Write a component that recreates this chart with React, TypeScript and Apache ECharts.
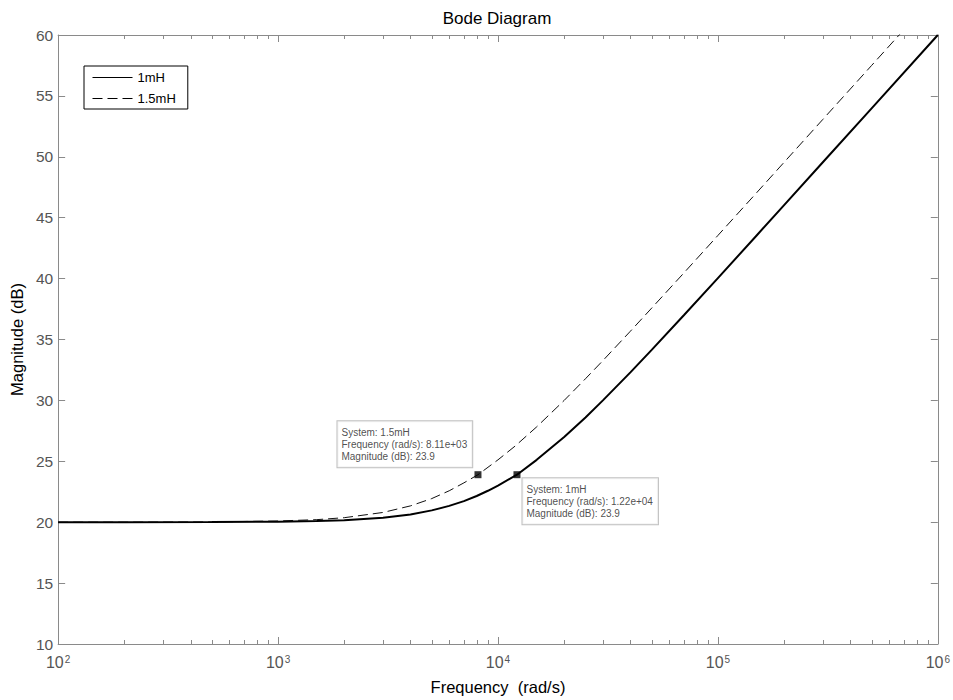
import React, { useEffect, useRef } from "react";
import * as echarts from "echarts";

const freq1 = [100, 200, 500, 1000, 1500, 2000, 3000, 4000, 5000, 6000, 7000, 8000, 9000, 10000, 12200, 15000, 20000, 25000, 30000, 40000, 50000, 70000, 100000, 150000, 200000, 300000, 500000, 1000000];
const mag1 = [20.0, 20.0, 20.01, 20.04, 20.1, 20.17, 20.37, 20.64, 20.97, 21.34, 21.73, 22.15, 22.58, 23.01, 23.9, 25.12, 26.99, 28.6, 30.0, 32.3, 34.15, 36.99, 40.04, 43.54, 46.03, 49.55, 53.98, 60.0];

const freq2 = [100, 200, 500, 1000, 1500, 2000, 3000, 4000, 5000, 6000, 7000, 8110, 10000, 12000, 15000, 20000, 25000, 30000, 40000, 50000, 70000, 100000, 150000, 200000, 300000, 500000, 667000, 1000000];
const mag2 = [20.0, 20.0, 20.02, 20.1, 20.21, 20.37, 20.8, 21.34, 21.94, 22.58, 23.23, 23.9, 25.12, 26.27, 27.83, 30.0, 31.78, 33.27, 35.68, 37.58, 40.46, 43.54, 47.05, 49.55, 53.07, 57.5, 60.0, 63.52];

const seriesNames = ["1mH", "1.5mH"];
const tipSystems = ["1.5mH", "1mH"];
const tipFreq = [8110, 12200];
const tipFreqText = ["8.11e+03", "1.22e+04"];
const tipMag = [23.9, 23.9];

const yTicks = [10, 15, 20, 25, 30, 35, 40, 45, 50, 55, 60];
const decades = [2, 3, 4, 5, 6];

const AXIS = "#8a8a8a";
const LABEL = "#555555";
const FONT = "'Liberation Sans', Arial, Helvetica, sans-serif";

export default function App() {
  const ref = useRef<HTMLDivElement>(null);
  useEffect(() => {
    if (!ref.current) return;
    const chart = echarts.init(ref.current, null, { renderer: "svg" });
    const xMin = Math.pow(10, decades[0]);
    const xMax = Math.pow(10, decades[decades.length - 1]);
    const yMin = yTicks[0];
    const yMax = yTicks[yTicks.length - 1];

    const xLabel = (v: number) => {
      const e = Math.round(Math.log10(v));
      return "{b|10}{e|" + e + "}";
    };

    const option: any = {
      animation: false,
      backgroundColor: "#ffffff",
      color: ["#000000", "#111111", "#000000"],
      textStyle: { fontFamily: FONT },
      grid: { left: 57, right: 14, top: 35, bottom: 52, containLabel: false },
      legend: {
        data: seriesNames,
        orient: "vertical",
        left: 84,
        top: 66,
        padding: [5, 12, 4, 8],
        itemWidth: 40,
        itemHeight: 12,
        itemGap: 8,
        borderColor: "#000",
        borderWidth: 1,
        backgroundColor: "#fff",
        itemStyle: { opacity: 0 },
        lineStyle: { width: 1, color: "#000" },
        textStyle: { fontSize: 13, color: "#000", fontFamily: FONT },
      },
      xAxis: [
        {
          type: "log",
          logBase: 10,
          min: xMin,
          max: xMax,
          splitNumber: 4,
          name: "Frequency  (rad/s)",
          nameLocation: "middle",
          nameGap: 34,
          nameTextStyle: { fontSize: 16.5, color: "#000", fontFamily: FONT },
          axisLine: { show: true, lineStyle: { color: AXIS, width: 1 } },
          axisTick: { show: true, inside: true, length: 7, lineStyle: { color: AXIS } },
          splitLine: { show: false },
          axisLabel: {
            formatter: xLabel,
            margin: 10,
            rich: {
              b: { fontSize: 16, color: LABEL, fontFamily: FONT },
              e: { fontSize: 10, color: LABEL, fontFamily: FONT, padding: [0, 0, 7, 1] },
            },
          },
        },
        {
          type: "log",
          logBase: 10,
          min: xMin,
          max: xMax,
          splitNumber: 4,
          position: "top",
          axisLine: { show: true, lineStyle: { color: AXIS, width: 1 } },
          axisTick: { show: true, inside: true, length: 7, lineStyle: { color: AXIS } },
          axisLabel: { show: false },
          splitLine: { show: false },
        },
      ],
      yAxis: [
        {
          type: "value",
          min: yMin,
          max: yMax,
          interval: 5,
          name: "Magnitude (dB)",
          nameLocation: "middle",
          nameGap: 28,
          nameTextStyle: { fontSize: 16.5, color: "#000", fontFamily: FONT },
          axisLine: { show: true, lineStyle: { color: AXIS, width: 1 } },
          axisTick: { show: true, inside: true, length: 7, lineStyle: { color: AXIS } },
          splitLine: { show: false },
          axisLabel: { fontSize: 15.5, color: LABEL, margin: 5, fontFamily: FONT },
        },
        {
          type: "value",
          min: yMin,
          max: yMax,
          interval: 5,
          position: "right",
          axisLine: { show: true, lineStyle: { color: AXIS, width: 1 } },
          axisTick: { show: true, inside: true, length: 7, lineStyle: { color: AXIS } },
          axisLabel: { show: false },
          splitLine: { show: false },
        },
      ],
      series: [
        {
          name: seriesNames[0],
          type: "line",
          data: freq1.map((f, i) => [f, mag1[i]]),
          showSymbol: false,
          symbol: "none",
          clip: true,
          itemStyle: { color: "#000" },
          lineStyle: { color: "#000", width: 2 },
          z: 3,
        },
        {
          name: seriesNames[1],
          type: "line",
          data: freq2.map((f, i) => [f, mag2[i]]),
          showSymbol: false,
          symbol: "none",
          clip: true,
          itemStyle: { color: "#111" },
          lineStyle: { color: "#111", width: 1, type: [10, 5] },
          z: 2,
        },
        {
          name: "datatips",
          type: "scatter",
          symbol: "rect",
          symbolSize: 7,
          itemStyle: { color: "#000" },
          z: 5,
          label: {
            fontFamily: "Liberation Sans",
            fontSize: 10,
          },
          data: tipFreq.map((f, i) => ({
            value: [f, tipMag[i]],
            label: {
              show: true,
              position: i === 0 ? [-137, -50] : [9, 7],
              formatter:
                "System: " + tipSystems[i] +
                "\nFrequency (rad/s): " + tipFreqText[i] +
                "\nMagnitude (dB): " + tipMag[i].toFixed(1),
              fontSize: 10,
              lineHeight: 12,
              color: "#222",
              fontFamily: "Liberation Sans",
              backgroundColor: "#fff",
              borderColor: "#b0b0b0",
              borderWidth: 1,
              padding: [5, 5, 5, 4],
              align: "left",
              verticalAlign: "top",
            },
          })),
        },
      ],
      graphic: [
        {
          type: "text",
          x: 497,
          y: 18,
          style: {
            text: "Bode Diagram",
            fontSize: 17,
            fill: "#000",
            fontFamily: FONT,
            textAlign: "center",
            textVerticalAlign: "middle",
          },
        },
      ],
    };
    chart.setOption(option);

    // minor log ticks at 2..9 x 10^k on bottom and top axes
    const yB = chart.convertToPixel({ yAxisIndex: 0 }, yMin) as number;
    const yT = chart.convertToPixel({ yAxisIndex: 0 }, yMax) as number;
    const minor: any[] = [];
    for (let d = 0; d < decades.length - 1; d++) {
      for (let m = 2; m <= 9; m++) {
        const v = m * Math.pow(10, decades[d]);
        const x = Math.round(chart.convertToPixel({ xAxisIndex: 0 }, v) as number) + 0.5;
        minor.push({
          type: "line",
          silent: true,
          shape: { x1: x, y1: yB, x2: x, y2: yB - 4 },
          style: { stroke: AXIS, lineWidth: 1 },
        });
        minor.push({
          type: "line",
          silent: true,
          shape: { x1: x, y1: yT, x2: x, y2: yT + 4 },
          style: { stroke: AXIS, lineWidth: 1 },
        });
      }
    }
    chart.setOption({ graphic: [option.graphic[0], ...minor] });

    return () => chart.dispose();
  }, []);
  return (
    <div
      ref={ref}
      style={{ position: "fixed", left: 0, top: 0, width: 953, height: 700, background: "#fff" }}
    />
  );
}
